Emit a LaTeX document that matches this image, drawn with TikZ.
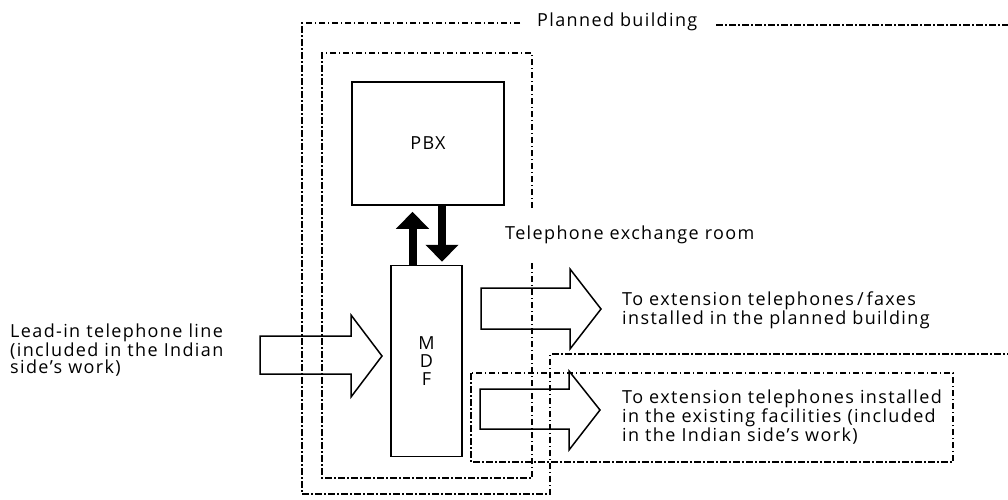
\documentclass[tikz,border=0pt]{standalone}
\usepackage{fontspec}
\setmainfont{Open Sans}[LetterSpace=7.6]
\usetikzlibrary{arrows.meta}
\begin{document}
\begin{tikzpicture}[x=1pt,y=-1pt,
  zone/.style={line width=1.3pt, dash pattern=on 6.5pt off 2.5pt on 1.5pt off 2.5pt},
  unit/.style={draw, line width=1.5pt, inner sep=0pt},
  lbl/.style={font=\fontsize{18}{17.5}\selectfont, align=left, inner sep=0pt},
  blk/.style={draw, line width=1.5pt, line join=miter},
  flow/.style={line width=8pt, -{Triangle[width=32pt,length=17pt]}}
]
\useasboundingbox (0,0) rectangle (1008,499);

% zones
\draw[zone] (520,23) -- (302,23) -- (302,494) -- (550,494) -- (550,354) -- (1008,354);
\draw[zone] (716,25) -- (1008,25);
\draw[zone] (532,208) -- (532,53) -- (322,53) -- (322,478) -- (532,478) -- (532,260);
\draw[zone] (471,373) rectangle (953,462);

% units
\node[unit, minimum width=152pt, minimum height=123pt, font=\fontsize{18}{17.5}\selectfont] (pbx) at (428,143.5) {PBX};
\node[unit, minimum width=71pt, minimum height=191pt, align=center, font=\fontsize{18}{18}\selectfont] (mdf) at (426.5,361) {M\\D\\F};

% signal arrows
\draw[flow, shorten >=6pt] ([xshift=-14pt]mdf.north) -- ([xshift=-14pt]mdf.north |- pbx.south);
\draw[flow, shorten >=3pt] ([xshift=15.5pt]mdf.north |- pbx.south) -- ([xshift=15.5pt]mdf.north);

% block arrows
\draw[blk] (260,336) -- (351,336) -- (351,315) -- (382,356) -- (351,397) -- (351,374) -- (260,374) -- cycle;
\draw[blk] (481,288) -- (570,288) -- (570,269) -- (601,309) -- (570,349) -- (570,329) -- (481,329) -- cycle;
\draw[blk] (480,389) -- (569,389) -- (569,371) -- (600,410) -- (569,450) -- (569,429) -- (480,429) -- cycle;

% labels
\node[lbl, anchor=west] (planned) at (537,22) {Planned building};
\node[lbl, anchor=west] (room) at (505,235) {Telephone exchange room};
\node[lbl, anchor=west] (lead) at (10,350) {Lead-in telephone line\\(included in the Indian\\side's work)};
\node[lbl, anchor=west] (ext1) at (622,310) {To extension telephones\,/\,faxes\\installed in the planned building};
\node[lbl, anchor=west] (ext2) at (622,417) {To extension telephones installed\\in the existing facilities (included\\in the Indian side's work)};
\end{tikzpicture}
\end{document}
